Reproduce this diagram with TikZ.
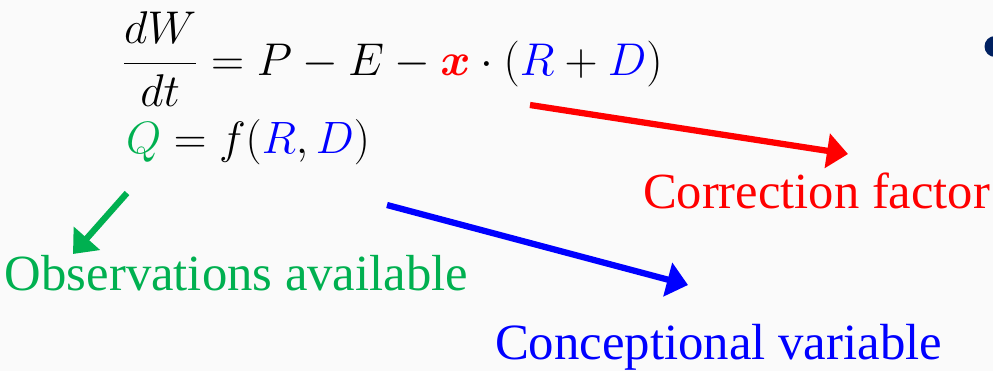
\documentclass[tikz,border=0pt]{standalone}
\usepackage{amsmath}
\usepackage{fontspec}
\usepackage{graphicx}
\usetikzlibrary{arrows.meta}
\newfontfamily\labfont{Liberation Serif}
\definecolor{bgc}{HTML}{FAFAFA}
\definecolor{myred}{HTML}{FF0000}
\definecolor{myblue}{HTML}{0000FF}
\definecolor{mygreen}{HTML}{00B050}
\definecolor{navy}{HTML}{002060}
\begin{document}
\begin{tikzpicture}[x=0.75pt,y=-0.75pt,
  arr/.style={line width=4.7pt,-{Triangle[length=15.75pt,width=25.5pt]}},
  lbl/.style={inner sep=0pt,outer sep=0pt,anchor=base west},
  txt/.style={lbl,font=\labfont}]
\useasboundingbox (0,0) rectangle (993,371);
\fill[bgc] (0,0) rectangle (993,371);
\begin{scope}
  \clip (0,0) rectangle (993,371);
  \node[circle,fill=navy,inner sep=0pt,minimum size=15.75pt] (bullet) at (995,46.5) {};
\end{scope}
% equations
\node[lbl] (eqa) at (122,75) {\resizebox{405.5pt}{!}{\fontsize{34}{40}\selectfont
  $\displaystyle\frac{\mbox{\fontsize{27}{30}\selectfont$dW$}}{\mbox{\fontsize{27}{30}\selectfont$dt$}}
  =P-E-\textcolor{myred}{\boldsymbol{x}}\cdot(\textcolor{myblue}{R}+\textcolor{myblue}{D})$}};
\node[lbl] (eqb) at (126,153) {\resizebox{183pt}{!}{\fontsize{34}{40}\selectfont
  $\textcolor{mygreen}{Q}=f(\textcolor{myblue}{R},\textcolor{myblue}{D})$}};
% labels
\node[txt,text=mygreen] (obs) at (5,290) {\resizebox{347.25pt}{!}{Observations available}};
\node[txt,text=myred] (cor) at (643,208) {\resizebox{260.25pt}{!}{Correction factor}};
\node[txt,text=myblue] (con) at (495,359) {\resizebox{335.25pt}{!}{Conceptional variable}};
% arrows
\coordinate (ra) at (530,105); \coordinate (rb) at (848,154);
\coordinate (ba) at (387,205); \coordinate (bb) at (688,285);
\coordinate (ga) at (127,193); \coordinate (gb) at (73,254);
\draw[arr,myred] (ra) -- (rb);
\draw[arr,myblue] (ba) -- (bb);
\draw[arr,mygreen] (ga) -- (gb);
\end{tikzpicture}
\end{document}
